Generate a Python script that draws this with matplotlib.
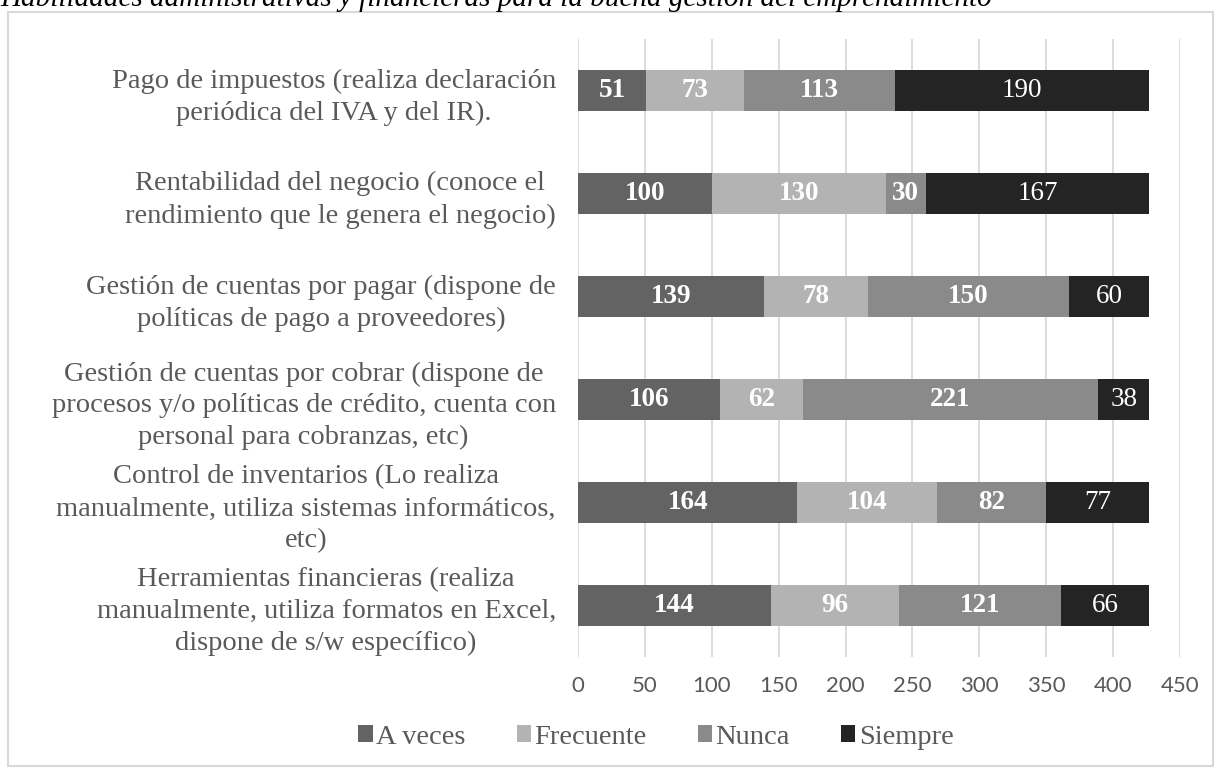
import matplotlib.pyplot as plt
from matplotlib.patches import Rectangle

# datos (de abajo hacia arriba)
categorias = [
    "Herramientas financieras (realiza\nmanualmente, utiliza formatos en Excel,\ndispone de s/w específico)",
    "Control de inventarios (Lo realiza\nmanualmente, utiliza sistemas informáticos,\netc)",
    "Gestión de cuentas por cobrar (dispone de\nprocesos y/o políticas de crédito, cuenta con\npersonal para cobranzas, etc)",
    "Gestión de cuentas por pagar (dispone de\npolíticas de pago a proveedores)",
    "Rentabilidad del negocio (conoce el\nrendimiento que le genera el negocio)",
    "Pago de impuestos (realiza declaración\nperiódica del IVA y del IR).",
]
a_veces = [144, 164, 106, 139, 100, 51]
frecuente = [96, 104, 62, 78, 130, 73]
nunca = [121, 82, 221, 150, 30, 113]
siempre = [66, 77, 38, 60, 167, 190]

series = ["A veces", "Frecuente", "Nunca", "Siempre"]
colores = ["#636363", "#b3b3b3", "#8a8a8a", "#242424"]
negrita = ["bold", "bold", "bold", "normal"]

plt.rcParams["font.family"] = ["Liberation Serif", "DejaVu Serif"]

fig = plt.figure(figsize=(12.21, 7.76), dpi=100)
ax = fig.add_axes([578 / 1221, 1 - 657 / 776, (1180 - 578) / 1221, (657 - 39) / 776])

y = list(range(len(categorias)))
izq = [0] * len(categorias)
for nombre, vals, col, peso in zip(series, [a_veces, frecuente, nunca, siempre], colores, negrita):
    barras = ax.barh(y, vals, left=izq, height=0.4, color=col, label=nombre, zorder=2)
    ax.bar_label(barras, labels=[str(v) for v in vals], label_type="center",
                 color="white", fontsize=19.5, fontweight=peso)
    izq = [a + b for a, b in zip(izq, vals)]

ax.set_xlim(0, 450)
ax.set_ylim(-0.5, len(categorias) - 0.5)
ax.set_xticks(range(0, 451, 50))
ax.set_yticks(y)
ax.set_yticklabels(categorias, fontsize=20.5, color="#595959",
                   multialignment="center", linespacing=1.36)
ax.tick_params(axis="y", length=0, pad=16)
ax.tick_params(axis="x", length=0, pad=14, labelsize=16, labelcolor="#595959")
for t in ax.get_xticklabels():
    t.set_family(["Lato", "DejaVu Sans"])
ax.grid(axis="x", color="#d9d9d9", linewidth=1.3, zorder=0)
for s in ax.spines.values():
    s.set_visible(False)

fig.legend(loc="center", bbox_to_anchor=(656 / 1221, 1 - 737 / 776), ncol=4,
           frameon=False, fontsize=20.5, handlelength=0.5, handleheight=0.5,
           handletextpad=0.12, columnspacing=1.8, labelcolor="#595959")

# borde del área del gráfico
fig.patches.append(Rectangle((8 / 1221, 1 - 766 / 776), (1213 - 8) / 1221, (766 - 12) / 776,
                             transform=fig.transFigure, fill=False,
                             edgecolor="#d9d9d9", linewidth=1.5))

# título cortado en la parte superior
fig.text(0.0, 1 - 6 / 776,
         "Habilidades administrativas y financieras para la buena gestión del emprendimiento",
         ha="left", va="baseline", fontsize=21, style="italic", color="black")

plt.savefig("out.png", dpi=100)
